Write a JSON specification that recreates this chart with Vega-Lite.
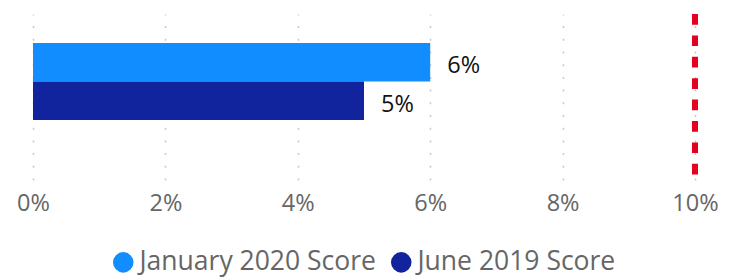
{
  "$schema": "https://vega.github.io/schema/vega-lite/v6.json",
  "width": 662,
  "height": 166,
  "autosize": "none",
  "padding": {"left": 33, "top": 14, "right": 43, "bottom": 98},
  "config": {
    "font": "Open Sans",
    "view": {"stroke": null}
  },
  "layer": [
    {
      "data": {
        "values": [
          {"group": "Score", "series": "January 2020 Score", "value": 0.06},
          {"group": "Score", "series": "June 2019 Score", "value": 0.05}
        ]
      },
      "layer": [
        {
          "mark": {"type": "bar"},
          "encoding": {
            "y": {"field": "group", "type": "nominal", "axis": null, "scale": {"paddingInner": 0, "paddingOuter": 0.578, "align": 0.326}},
            "yOffset": {"field": "series", "type": "nominal", "sort": ["January 2020 Score", "June 2019 Score"], "scale": {"paddingInner": 0, "paddingOuter": 0}},
            "x": {
              "field": "value", "type": "quantitative",
              "scale": {"domain": [0, 0.1], "nice": false},
              "axis": {
                "title": null, "format": ".0%", "values": [0, 0.02, 0.04, 0.06, 0.08, 0.1],
                "domain": false, "ticks": false, "labelFontSize": 23.5, "labelColor": "#666666",
                "labelPadding": 11, "labelFlush": false, "labelOverlap": false,
                "gridColor": "#c8c8c8", "gridDash": [2, 10.7], "gridWidth": 1.5,
                "labelFont": "Open Sans"
              }
            },
            "color": {
              "field": "series", "type": "nominal",
              "scale": {"domain": ["January 2020 Score", "June 2019 Score"], "range": ["#118DFF", "#12239E"]},
              "legend": {
                "title": null, "orient": "none", "legendX": 77, "legendY": 235, "direction": "horizontal", "symbolType": "circle",
                "symbolSize": 420, "labelFontSize": 26.5, "labelColor": "#666666", "labelOffset": 3, "labelLimit": 400,
                "columnPadding": 12, "symbolStrokeWidth": 0, "labelFont": "Open Sans"
              }
            }
          }
        },
        {
          "mark": {"type": "text", "align": "left", "baseline": "middle", "dx": 17, "dy": 4, "fontSize": 23.5, "color": "#111111"},
          "encoding": {
            "y": {"field": "group", "type": "nominal"},
            "yOffset": {"field": "series", "type": "nominal", "sort": ["January 2020 Score", "June 2019 Score"]},
            "x": {"field": "value", "type": "quantitative"},
            "text": {"field": "value", "type": "quantitative", "format": ".0%"}
          }
        }
      ]
    },
    {
      "data": {"values": [{"target": 0.1}]},
      "mark": {"type": "rule", "color": "#E6001F", "strokeWidth": 6, "strokeDash": [10.7, 10.7]},
      "encoding": {
        "x": {"field": "target", "type": "quantitative"}
      }
    }
  ]
}
